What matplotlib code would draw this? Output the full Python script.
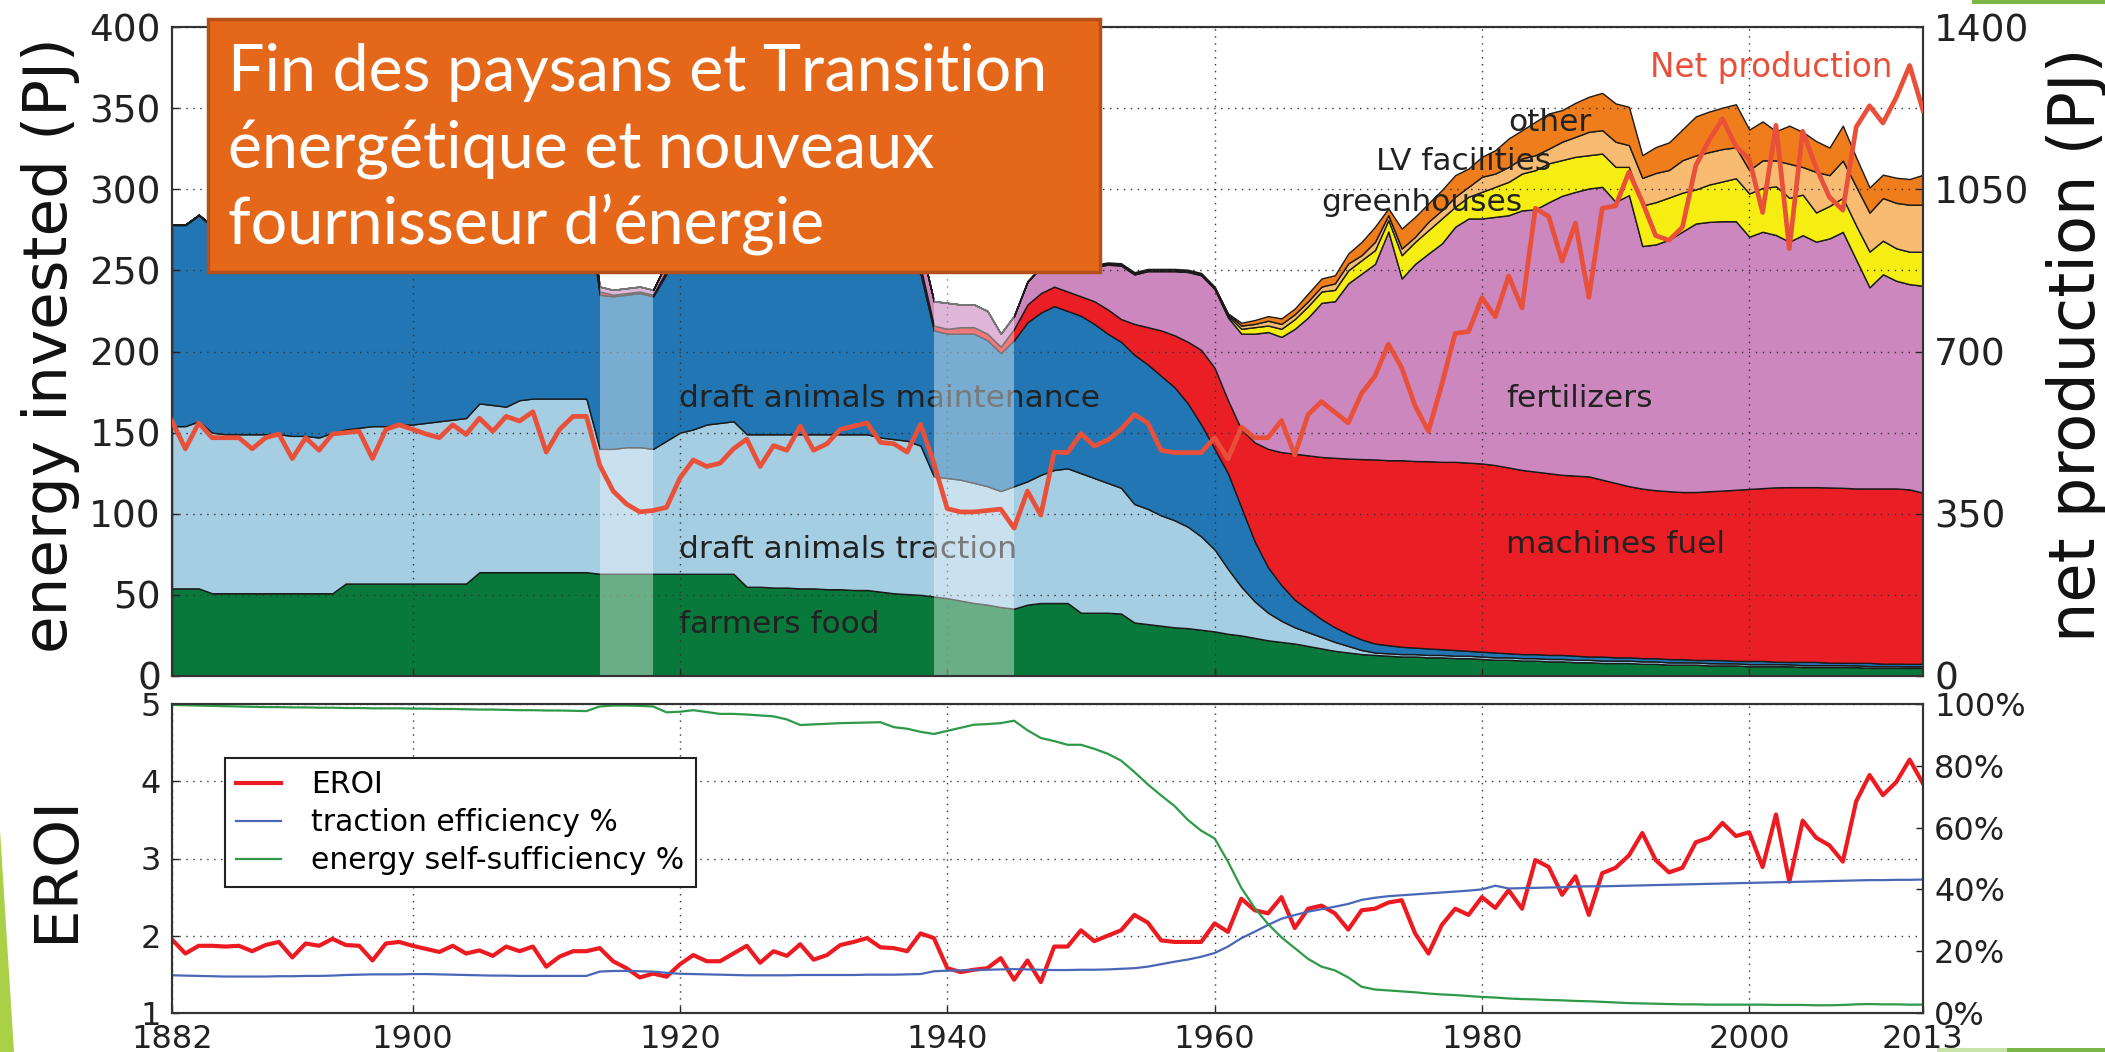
import matplotlib
matplotlib.use("Agg")
import matplotlib.pyplot as plt
from matplotlib.lines import Line2D
from matplotlib.patches import Rectangle, Polygon
import numpy as np

years = np.arange(1882, 2014)

# ---- top panel: energy invested (PJ), one list per stacked layer, bottom -> top
farmers_food = [
    54, 54, 54, 51, 51, 51, 51, 51, 51, 51,
    51, 51, 51, 57, 57, 57, 57, 57, 57, 57,
    57, 57, 57, 64, 64, 64, 64, 64, 64, 64,
    64, 64, 63, 63, 63, 63, 63, 63, 63, 63,
    63, 63, 63, 55, 55, 54.5, 54.5, 54, 54, 53.5,
    53.5, 53, 53, 52, 51, 50.5, 50, 49, 48, 46.5,
    45, 44, 42.5, 41.5, 44, 45, 45, 45, 39, 39,
    39, 38.5, 33, 32, 31, 30, 29.5, 28.5, 27.5, 26,
    25, 23.5, 22, 21, 20, 18.5, 17, 15.5, 14.5, 13.5,
    13, 12.5, 12, 12, 11.5, 11.5, 11, 11, 10.5, 10,
    10, 9.5, 9.5, 9, 9, 8.5, 8.5, 8, 8, 8,
    7.5, 7.5, 7, 7, 7, 6.5, 6.5, 6.5, 6, 6,
    6, 6, 5.5, 5.5, 5.5, 5.5, 5.5, 5, 5, 5,
    5, 5]
draft_traction = [
    100, 100, 103, 99, 98, 98, 98, 98, 98, 97,
    97, 96, 99, 95, 96, 97, 97, 98, 98, 99,
    100, 101, 102, 104, 103, 102, 106, 107, 107, 107,
    107, 107, 77, 77, 78, 78, 77, 82, 87, 89,
    92, 93, 94, 94, 94, 94.5, 94.5, 95, 95, 95.5,
    95.5, 96, 96, 95, 95, 94.5, 92, 74, 74, 74.5,
    74, 73, 71.5, 75.5, 76, 79, 82, 83, 86, 83,
    80, 77.5, 73, 71, 68, 66, 62.5, 57.5, 50.5, 40,
    30, 22.5, 17, 13, 10, 8.5, 7, 5.5, 4, 2.5,
    1.5, 1.5, 1.5, 1.5, 1.5, 1.5, 1.5, 1.5, 1.5, 1.5,
    1.5, 1.5, 1.5, 1.5, 1.5, 1.5, 1.5, 1.5, 1.5, 1.5,
    1.5, 1.5, 1.4, 1.4, 1.4, 1.4, 1.3, 1.3, 1.3, 1.3,
    1.3, 1.2, 1.2, 1.2, 1.2, 1.2, 1.1, 1.1, 1.1, 1.1,
    1.0, 1.0]
draft_maintenance = [
    124, 124, 127, 127, 128, 129, 129, 130, 130, 132,
    132, 134, 131, 131, 131, 130, 131, 130, 131, 130,
    130, 129, 129, 124, 125, 126, 123, 122, 122, 122,
    122, 122, 95, 94, 94, 95, 94, 103, 108, 108,
    107, 107, 106, 109, 109, 109, 109, 109, 109, 109,
    109, 109, 109, 109, 108, 107, 106, 90, 89, 90,
    92, 90, 85, 90, 98, 100, 101, 97, 97, 95,
    92, 90, 92, 89, 86, 82, 76, 69, 62, 59,
    49, 37, 28, 22, 17, 14, 11, 9, 7.5, 6.5,
    5.5, 5, 4.5, 4, 4, 3.5, 3.5, 3, 3, 3,
    2.5, 2.5, 2.5, 2.5, 2.5, 2.5, 2, 2.5, 2, 2,
    2, 2, 2, 2, 1.5, 2, 2, 1.5, 2, 2,
    1.5, 1.5, 2, 2, 1.5, 1.5, 1.5, 2, 1.5, 1.5,
    1.5, 1.5]
machines_fuel = [
    0, 0, 0, 0, 0, 0, 0, 0, 0, 0,
    0, 0, 0, 0, 0, 0, 0, 0, 0, 0,
    0, 0, 0, 0, 0, 0, 0, 0, 0.5, 0.5,
    0.5, 0.5, 2, 1, 1, 1, 1, 2, 2, 2.5,
    2.5, 2.5, 2.5, 3, 3, 3, 3.5, 3.5, 3.5, 4,
    4, 4, 4.5, 4.5, 4.5, 4.5, 4.5, 3, 3, 4,
    4, 4, 4, 7, 11, 12, 12, 12, 12, 14,
    15, 14, 19, 23, 28, 32, 38, 46, 50, 45,
    48, 61, 73, 82, 90, 95, 100, 104.5, 108, 111.2,
    113.5, 114, 115, 115, 115.4, 115.5, 116, 116, 116, 115.5,
    114.5, 113.5, 112.5, 112, 111, 111, 111, 109, 107.5, 105.5,
    104.5, 103.5, 103.5, 103, 103.5, 104, 104.5, 105.5, 106, 106.5,
    107.5, 107.7, 107.7, 107.7, 108, 107.8, 107.5, 107.5, 108, 108,
    107.5, 105.5]
fertilizers = [
    0.3, 0.3, 0.3, 0.5, 0.5, 0.5, 0.5, 0.5, 0.5, 0.5,
    0.5, 0.5, 0.5, 1, 1, 1, 1, 1, 1, 1,
    1, 1, 1, 1.5, 1.5, 1.5, 1.5, 1.5, 1.5, 2,
    2, 2.5, 3, 3, 3, 3, 3, 5, 6, 6.5,
    7.5, 8.5, 9.5, 10, 11, 12, 12.5, 13.5, 14.5, 15,
    15, 15, 15.5, 16.5, 16.5, 15.5, 13.5, 15, 16, 14,
    14, 14, 8, 8, 14, 16, 14, 16, 19, 21,
    27.5, 33, 30.5, 34.5, 36.5, 39.5, 43, 46, 48.5, 51,
    59, 67, 72, 71, 77, 85, 95, 96.5, 108, 114.3,
    120.5, 141, 112, 121.5, 128, 134.6, 144.9, 150.5, 151, 153,
    155.5, 160, 161.6, 167, 172, 174.9, 177.5, 180.5, 173.3, 179.4,
    149.5, 151.5, 155, 160.5, 165.5, 166, 166, 165.5, 155.5, 158,
    155.5, 151.3, 155.3, 151.3, 153.5, 157.7, 141, 124, 132, 128,
    126.5, 127.5]
greenhouses = [0] * 60 + [
    0, 0, 0, 0, 0, 0, 0, 0, 0.3, 0.3,
    0.3, 0.3, 0.3, 0.3, 0.3, 0.3, 0.3, 0.3, 0.5, 1,
    3, 4, 4, 5, 6, 7, 7, 7, 8, 8.3,
    8.5, 7, 14.4, 13.6, 14.4, 15.4, 12.3, 13.4, 16.4, 18.5,
    20.6, 22.7, 24.2, 24, 22, 21.6, 20.5, 20.5, 21.5, 17.4,
    25, 26, 26, 24, 21, 23, 24.5, 26.5, 26.6, 27,
    30, 27, 25, 18, 20, 21, 21, 22, 20.7, 20,
    20, 21]
lv_facilities = [0] * 60 + [
    0, 0, 0, 0, 0, 0, 0, 0, 0.3, 0.3,
    0.3, 0.3, 0.3, 0.3, 0.3, 0.3, 0.3, 0.3, 0.5, 1,
    2, 2, 3, 3, 3, 3, 3, 4, 4.3, 3.1,
    5.1, 3, 4.1, 3.1, 5.2, 5.1, 6.2, 6.1, 9.3, 8.2,
    9.2, 9.3, 9.2, 9, 11.3, 12.3, 14.4, 14.4, 15.5, 13.4,
    17, 18, 17, 20, 21, 20, 20, 19, 14.4, 17,
    16, 21, 17, 25, 19, 23, 24, 24, 26.3, 28,
    29, 29]
other = [0] * 60 + [
    0, 0, 0, 0, 0.5, 0.5, 0.5, 0.5, 0.8, 0.8,
    0.8, 0.8, 0.8, 0.8, 0.8, 0.8, 0.8, 0.8, 0.5, 0.5,
    1.7, 2.4, 2.8, 3.4, 3.5, 4.8, 5, 5, 6.1, 8.2,
    9.3, 4.2, 12.3, 12.3, 11.3, 12.4, 13.3, 11.3, 12.3, 14.4,
    17.5, 17.4, 20.6, 21.7, 19.5, 21, 21.6, 23, 23.6, 23.6,
    14, 16, 17, 19, 24, 25, 25.5, 26.6, 25, 24,
    18, 23.5, 21.6, 19, 17, 21.5, 18, 15.5, 14.4, 15.5,
    15.8, 18.4]

# net production (PJ, right axis)
net_production = [
    550, 490, 546, 514, 514, 514, 490, 514, 522, 469,
    514, 487, 522, 525, 528, 469, 532, 542, 532, 522,
    514, 542, 521, 556, 528, 560, 550, 570, 483, 532,
    560, 560, 455, 399, 371, 354, 357, 364, 427, 466,
    452, 459, 490, 511, 452, 497, 487, 539, 487, 501,
    532, 539, 546, 504, 501, 483, 543, 459, 361, 354,
    354, 357, 360, 319, 399, 347, 483, 482, 523, 496,
    509, 532, 564, 546, 487, 482, 482, 482, 514, 468,
    537, 514, 514, 551, 477, 564, 592, 569, 546, 610,
    647, 716, 665, 583, 528, 629, 739, 743, 816, 775,
    863, 794, 1009, 991, 895, 977, 817, 1009, 1014, 1087,
    1023, 950, 940, 968, 1101, 1156, 1202, 1142, 1115, 1000,
    1188, 922, 1175, 1097, 1033, 1005, 1184, 1230, 1193, 1248,
    1317, 1220]

# ---- bottom panel
eroi = [
    1.95, 1.77, 1.87, 1.87, 1.86, 1.87, 1.80, 1.88, 1.92, 1.72,
    1.90, 1.87, 1.96, 1.88, 1.87, 1.68, 1.90, 1.92, 1.87, 1.83,
    1.79, 1.87, 1.77, 1.81, 1.74, 1.86, 1.80, 1.86, 1.60, 1.73,
    1.80, 1.80, 1.84, 1.67, 1.58, 1.46, 1.51, 1.47, 1.63, 1.75,
    1.67, 1.67, 1.77, 1.87, 1.65, 1.80, 1.74, 1.89, 1.69, 1.75,
    1.88, 1.92, 1.97, 1.85, 1.84, 1.80, 2.03, 1.97, 1.58, 1.53,
    1.56, 1.58, 1.71, 1.43, 1.68, 1.40, 1.86, 1.86, 2.07, 1.93,
    2.00, 2.07, 2.27, 2.17, 1.94, 1.92, 1.92, 1.92, 2.16, 2.05,
    2.48, 2.33, 2.29, 2.50, 2.10, 2.35, 2.39, 2.29, 2.08, 2.33,
    2.35, 2.43, 2.46, 2.03, 1.77, 2.14, 2.35, 2.27, 2.50, 2.36,
    2.59, 2.35, 2.98, 2.89, 2.53, 2.77, 2.27, 2.81, 2.88, 3.04,
    3.33, 2.98, 2.82, 2.88, 3.21, 3.27, 3.46, 3.29, 3.34, 2.89,
    3.57, 2.70, 3.49, 3.27, 3.17, 2.96, 3.74, 4.08, 3.82, 3.99,
    4.28, 3.97]
traction_efficiency = [
    12.2, 12.1, 12.0, 11.9, 11.8, 11.8, 11.8, 11.8, 11.9, 11.9,
    12.0, 12.0, 12.1, 12.3, 12.4, 12.5, 12.5, 12.5, 12.6, 12.6,
    12.5, 12.4, 12.3, 12.2, 12.1, 12.1, 12.0, 12.0, 12.0, 12.0,
    12.0, 12.0, 13.4, 13.6, 13.6, 13.5, 13.4, 13.0, 12.7, 12.6,
    12.5, 12.4, 12.3, 12.2, 12.2, 12.2, 12.2, 12.3, 12.3, 12.3,
    12.3, 12.3, 12.4, 12.4, 12.4, 12.5, 12.6, 13.5, 13.7, 13.8,
    13.9, 14.0, 14.1, 14.2, 14.1, 14.0, 13.9, 13.9, 14.0, 14.0,
    14.1, 14.3, 14.5, 15.0, 15.8, 16.6, 17.3, 18.2, 19.4, 21.5,
    24.2, 26.3, 28.5, 30.5, 31.7, 32.8, 33.6, 34.4, 35.3, 36.6,
    37.3, 37.8, 38.1, 38.4, 38.7, 39.0, 39.3, 39.6, 40.0, 41.2,
    40.3, 40.4, 40.5, 40.6, 40.7, 40.9, 41.0, 41.0, 41.1, 41.2,
    41.3, 41.4, 41.5, 41.6, 41.7, 41.8, 41.9, 42.0, 42.1, 42.2,
    42.3, 42.4, 42.5, 42.6, 42.7, 42.8, 42.9, 43.0, 43.0, 43.1,
    43.1, 43.2]
self_sufficiency = [
    99.7, 99.6, 99.5, 99.4, 99.3, 99.2, 99.1, 99.0, 99.0, 98.9,
    98.9, 98.8, 98.8, 98.7, 98.7, 98.6, 98.6, 98.6, 98.5, 98.5,
    98.4, 98.4, 98.3, 98.2, 98.2, 98.1, 98.0, 98.0, 97.9, 97.9,
    97.8, 97.7, 99.2, 99.5, 99.5, 99.4, 99.2, 97.3, 97.5, 98.0,
    97.4, 96.8, 96.8, 96.6, 96.3, 96.0, 95.0, 93.2, 93.4, 93.6,
    93.8, 93.9, 94.0, 94.1, 92.5, 92.0, 91.0, 90.3, 91.3, 92.3,
    93.3, 93.5, 93.8, 94.6, 91.5, 89.0, 88.0, 86.8, 86.8, 85.5,
    83.9, 81.7, 78.0, 74.0, 70.4, 67.0, 62.5, 59.0, 56.5, 49.0,
    40.5, 34.0, 28.8, 24.5, 21.0, 17.5, 15.0, 13.8, 11.5, 8.5,
    7.6, 7.3, 7.0, 6.7, 6.3, 6.0, 5.8, 5.5, 5.2, 5.0,
    4.7, 4.5, 4.4, 4.2, 4.1, 3.9, 3.8, 3.6, 3.4, 3.2,
    3.1, 3.0, 2.9, 2.8, 2.8, 2.7, 2.7, 2.7, 2.7, 2.7,
    2.6, 2.6, 2.6, 2.5, 2.5, 2.6, 2.8, 2.9, 2.8, 2.8,
    2.7, 2.7]

layers = [farmers_food, draft_traction, draft_maintenance, machines_fuel,
          fertilizers, greenhouses, lv_facilities, other]
layer_colors = ["#08793a", "#a6cee3", "#2176b3", "#ea1f26",
                "#cc87bf", "#f6ee12", "#f8bb72", "#f07d1b"]

war_periods = [(1914, 1918), (1939, 1945)]

W, H = 2105, 1052
fig = plt.figure(figsize=(W / 100, H / 100), dpi=100)
ax = fig.add_axes([172 / W, 1 - 676 / H, 1751 / W, 649 / H])
axr = ax.twinx()
axb = fig.add_axes([172 / W, 1 - 1013 / H, 1751 / W, 309 / H])
axbr = axb.twinx()

# stacked areas
ax.stackplot(years, *layers, colors=layer_colors, edgecolor="#1a1a1a", linewidth=1.0)
ax.set_xlim(1882, 2013)
ax.set_ylim(0, 400)
ax.set_yticks(np.arange(0, 401, 50))
ax.set_xticks([1900, 1920, 1940, 1960, 1980, 2000])
ax.set_xticklabels([])
ax.set_axisbelow(False)
ax.grid(True, linestyle=(0, (1, 4)), color="#333333", linewidth=1.0)

for a, b in war_periods:
    axr.axvspan(a, b, color="white", alpha=0.4, lw=0, zorder=1)
axr.plot(years, net_production, color="#e8503a", lw=3.4, zorder=3)
axr.set_ylim(0, 1400)
axr.set_yticks([0, 350, 700, 1050, 1400])

lab = dict(fontsize=22.5, color="#222222", va="center", ha="left")
ax.text(1919.9, 171, "draft animals maintenance", **lab)
ax.text(1919.9, 78, "draft animals traction", **lab)
ax.text(1919.9, 32, "farmers food", **lab)
ax.text(1981.8, 171, "fertilizers", **lab)
ax.text(1981.8, 81, "machines fuel", **lab)
ax.text(1968.0, 292, "greenhouses", **lab)
ax.text(1972.1, 317, "LV facilities", **lab)
ax.text(1982.0, 341, "other", **lab)
ax.text(1992.6, 375, "Net production", fontsize=23.5, color="#e8503a", va="center", ha="left")

# bottom panel
axb.plot(years, eroi, color="#ec1b22", lw=3.0)
axb.set_xlim(1882, 2013)
axb.set_ylim(1, 5)
axb.set_yticks([1, 2, 3, 4, 5])
axb.set_xticks([1882, 1900, 1920, 1940, 1960, 1980, 2000, 2013])
axb.grid(True, linestyle=(0, (1, 4)), color="#333333", linewidth=1.0)
axbr.plot(years, traction_efficiency, color="#4a67b7", lw=1.6)
axbr.plot(years, self_sufficiency, color="#2e9a48", lw=1.6)
axbr.set_ylim(0, 100)
axbr.set_yticks(np.arange(0, 101, 20))
axbr.set_yticklabels(["%d%%" % v for v in range(0, 101, 20)])

handles = [Line2D([], [], color="#ec1b22", lw=3.0),
           Line2D([], [], color="#4a67b7", lw=1.6),
           Line2D([], [], color="#2e9a48", lw=1.6)]
leg = axbr.legend(handles, ["EROI", "traction efficiency %", "energy self-sufficiency %"],
                  loc="upper left", bbox_to_anchor=(0.03, 0.824), borderaxespad=0,
                  fontsize=21.5, fancybox=False, framealpha=1, edgecolor="#222222",
                  handlelength=1.5, handletextpad=1.0, labelspacing=0.3, borderpad=0.4)
leg.get_frame().set_linewidth(1.5)

for a in (ax, axr, axb, axbr):
    for s in a.spines.values():
        s.set_color("#333333")
        s.set_linewidth(1.5)
    a.tick_params(direction="in", length=5, width=1, colors="#222222", pad=8)
ax.tick_params(labelsize=27)
axr.tick_params(labelsize=27)
axb.tick_params(labelsize=23)
axbr.tick_params(labelsize=23)

fig.text(51 / W, 1 - 345 / H, "energy invested (PJ)", rotation=90, fontsize=44,
         ha="center", va="center", color="#111111")
fig.text(2077 / W, 1 - 345 / H, "net production (PJ)", rotation=90, fontsize=46,
         ha="center", va="center", color="#111111")
fig.text(56 / W, 1 - 868 / H, "EROI", rotation=90, fontsize=44,
         ha="center", va="center", color="#111111")

# title box
fig.add_artist(Rectangle((208 / W, 1 - 272 / H), 892 / W, 253 / H, transform=fig.transFigure,
                         facecolor="#e5671a", edgecolor="#b5501a", lw=2.5, zorder=10))
title_lines = ["Fin des paysans et Transition", "énergétique et nouveaux",
               "fournisseur d’énergie"]
for i, line in enumerate(title_lines):
    fig.text(228 / W, 1 - (91 + 77 * i) / H, line, fontsize=46.5, family="Lato",
             color="white", va="baseline", ha="left", zorder=11)

# slide decorations
fig.add_artist(Rectangle((1972 / W, 1 - 4 / H), 133 / W, 4 / H, transform=fig.transFigure,
                         facecolor="#7ab648", lw=0, zorder=12))
fig.add_artist(Rectangle((1937 / W, 0), 70 / W, 4 / H, transform=fig.transFigure,
                         facecolor="#c8e2a8", lw=0, zorder=12))
fig.add_artist(Rectangle((2007 / W, 0), 98 / W, 4 / H, transform=fig.transFigure,
                         facecolor="#7ab648", lw=0, zorder=12))
fig.add_artist(Polygon([(0, 1 - 830 / H), (14 / W, 0), (0, 0)], closed=True,
                       transform=fig.transFigure, facecolor="#a9d047", lw=0, zorder=12))

fig.savefig("out.png", dpi=100)
